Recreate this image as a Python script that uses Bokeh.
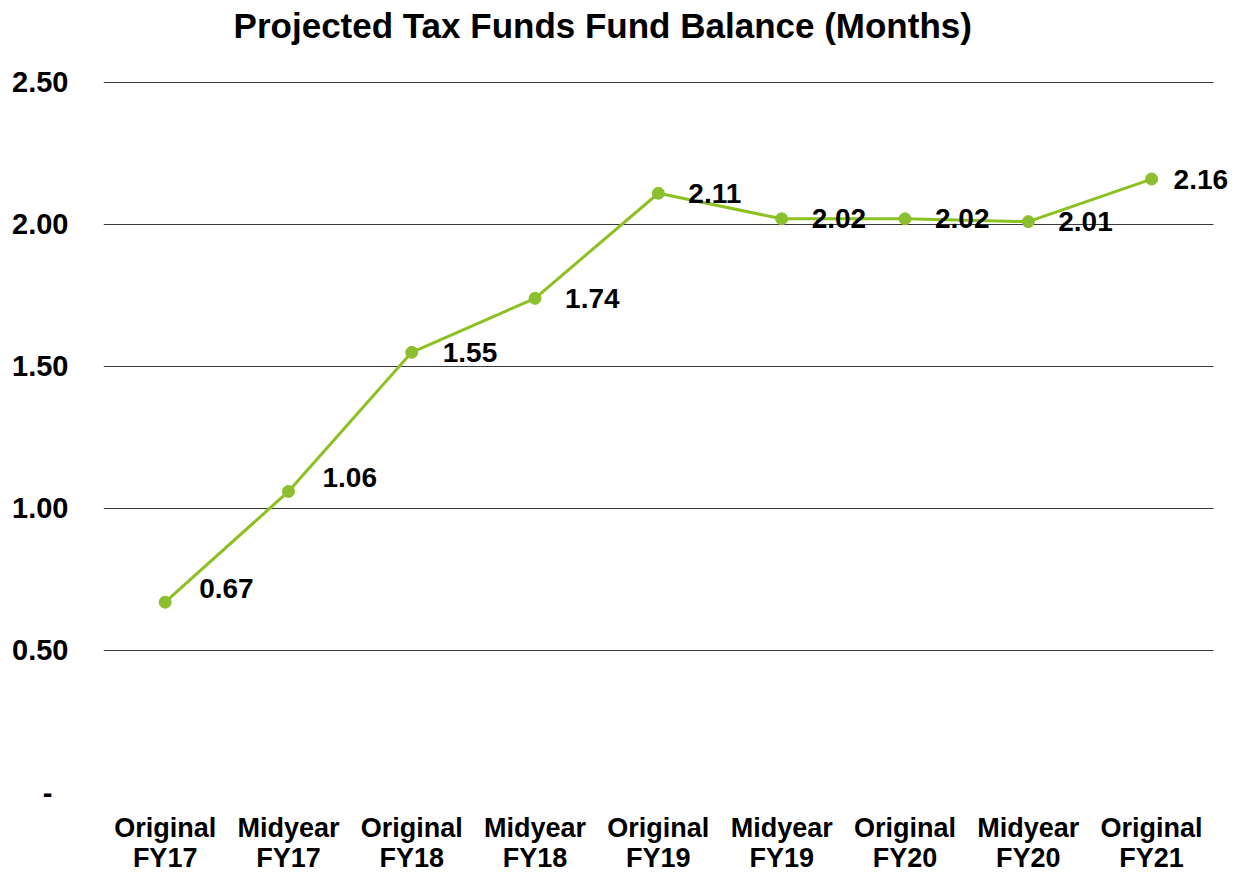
from bokeh.plotting import figure
from bokeh.models import Range1d, FixedTicker, ColumnDataSource, LabelSet, Label
from bokeh.core.properties import value
from bokeh.embed import file_html
from bokeh.resources import INLINE

categories = ["Original\nFY17", "Midyear\nFY17", "Original\nFY18", "Midyear\nFY18",
              "Original\nFY19", "Midyear\nFY19", "Original\nFY20", "Midyear\nFY20",
              "Original\nFY21"]
values = [0.67, 1.06, 1.55, 1.74, 2.11, 2.02, 2.02, 2.01, 2.16]
y_ticks = [0, 0.5, 1.0, 1.5, 2.0, 2.5]
y_tick_labels = ["-\u00a0\u00a0", "0.50", "1.00", "1.50", "2.00", "2.50"]
grid_ticks = [0.5, 1.0, 1.5, 2.0, 2.5]
title_text = "Projected Tax Funds Fund Balance (Months)"

FONT = "Liberation Sans"
GREEN = "#8DC021"

xs = list(range(len(categories)))
src = ColumnDataSource(dict(x=xs, y=values, lab=[f"{v:.2f}" for v in values],
                            yoff=[14, 14, 0, 0, 0, 0, 0, 0, 0],
                            xoff=[34, 34, 31, 30, 30, 30, 30, 30, 22]))

# frame covers the page from the top down to the zero line; the title sits inside it
p = figure(frame_width=1127, frame_height=792, output_backend="svg",
           toolbar_location=None, x_range=Range1d(-0.5, 8.64), y_range=Range1d(0, 2.7887),
           min_border_left=103, min_border_right=2, min_border_top=0, min_border_bottom=60)
p.outline_line_color = None
p.background_fill_color = "white"

p.xaxis.ticker = FixedTicker(ticks=xs)
p.xaxis.major_label_overrides = {i: c for i, c in enumerate(categories)}
p.yaxis.ticker = FixedTicker(ticks=y_ticks)
p.yaxis.major_label_overrides = {t: l for t, l in zip(y_ticks, y_tick_labels)}
for ax in (p.xaxis[0], p.yaxis[0]):
    ax.axis_line_color = None
    ax.major_tick_line_color = None
    ax.minor_tick_line_color = None
    ax.major_label_text_font = FONT
    ax.major_label_text_font_style = "bold"
    ax.major_label_text_color = "black"
p.xaxis.major_label_text_font_size = "27px"
p.xaxis.major_label_text_line_height = 1.0
p.yaxis.major_label_text_font_size = "29px"
p.xaxis.major_label_standoff = 14
p.yaxis.major_label_standoff = 29

p.xgrid.grid_line_color = None
p.ygrid.ticker = FixedTicker(ticks=grid_ticks)
p.ygrid.cross_bounds = (-0.5, 8.5)
p.ygrid.grid_line_color = "#3a3a3a"
p.ygrid.grid_line_width = 1.2

p.line("x", "y", source=src, line_color=GREEN, line_width=3)
p.scatter("x", "y", source=src, size=12, fill_color="#8CBF2E", line_color="#8CBF2E")

labels = LabelSet(x="x", y="y", text="lab", source=src, x_offset="xoff", y_offset="yoff",
                  text_font=value(FONT), text_font_style="bold", text_font_size="28px",
                  text_color="black", text_baseline="middle", text_align="left")
p.add_layout(labels)

p.add_layout(Label(x=3.549, y=2.70, text=title_text, text_font=FONT, text_font_style="bold",
                   text_font_size="35px", text_color="black", text_align="center",
                   text_baseline="middle"))

open("out.html", "w").write(file_html(p, INLINE))
